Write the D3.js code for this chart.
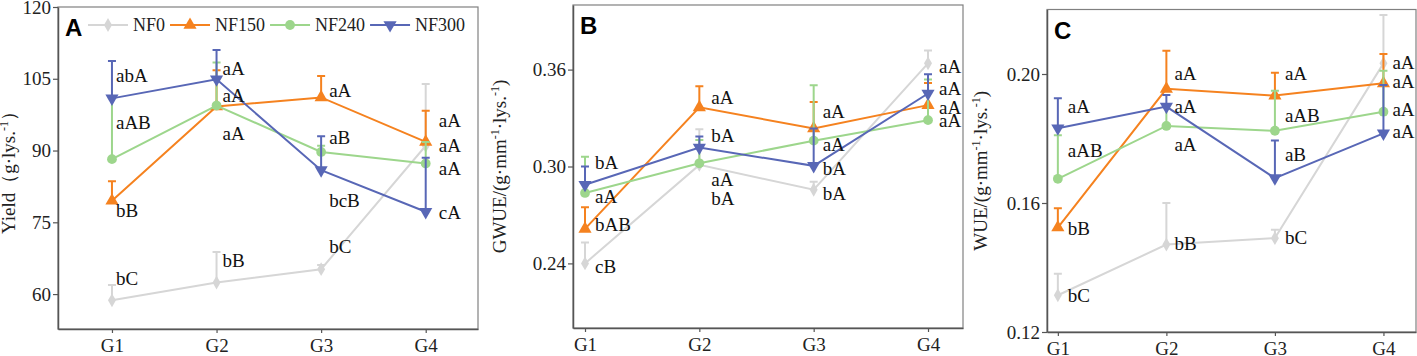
<!DOCTYPE html>
<html>
<head>
<meta charset="utf-8">
<script src="https://cdn.jsdelivr.net/npm/d3@7"></script>
<style>
  body { margin: 0; background: #fff; }
  svg { display: block; }
</style>
</head>
<body>
<div id="chart"></div>
<script>
// groups and treatments
const groups = ['G1', 'G2', 'G3', 'G4']
const series = ['NF0', 'NF150', 'NF240', 'NF300']
const colors = ['#d6d6d6', '#f5821f', '#9dd68c', '#5867b6']

// A - yield, rows follow series order
const yieldMean = [
  [58.7, 62.4, 65.2, 91.0],
  [79.5, 99.2, 101.1, 91.8],
  [88.2, 99.4, 89.7, 87.3],
  [100.9, 104.9, 85.9, 77.2]
]
const yieldSE = [
  [3.2, 6.4, 0.9, 12.9],
  [4.1, 7.6, 4.5, 6.5],
  [12.8, 9.0, 1.3, 4.5],
  [7.8, 6.1, 7.1, 11.3]
]
const yieldLetters = [
  ['bC', 'bB', 'bC', 'aA'],
  ['bB', 'aA', 'aA', 'aA'],
  ['aAB', 'aA', 'aB', 'aA'],
  ['abA', 'aA', 'bcB', 'cA']
]
const yieldLetterAt = [
  [63.3, 67.1, 69.9, 91.1],
  [77.4, 93.6, 102.6, 96.4],
  [95.8, 101.6, 92.8, 86.3],
  [105.8, 107.2, 79.6, 77.0]
]

// B - GWUE
const gwueMean = [
  [0.240, 0.301, 0.2856, 0.3639],
  [0.2614, 0.3366, 0.3236, 0.338],
  [0.2836, 0.302, 0.316, 0.3287],
  [0.2887, 0.3117, 0.3004, 0.3452]
]
const gwueSE = [
  [0.013, 0.022, 0.005, 0.008],
  [0.0133, 0.0131, 0.0164, 0.0137],
  [0.0225, 0.0144, 0.0343, 0.0251],
  [0.0113, 0.0068, 0.0232, 0.0119]
]
const gwueLetters = [
  ['cB', 'bA', 'bA', 'aA'],
  ['bAB', 'aA', 'aA', 'aA'],
  ['aA', 'aA', 'aA', 'aA'],
  ['bA', 'bA', 'bA', 'aA']
]
const gwueLetterAt = [
  [0.238, 0.2805, 0.2831, 0.362],
  [0.264, 0.3427, 0.3339, 0.3366],
  [0.2815, 0.2918, 0.314, 0.3283],
  [0.3027, 0.3195, 0.299, 0.3483]
]

// C - WUE
const wueMean = [
  [0.1314, 0.1471, 0.1491, 0.2033],
  [0.1524, 0.1954, 0.1933, 0.1971],
  [0.1675, 0.1839, 0.1824, 0.1883],
  [0.1832, 0.1899, 0.1677, 0.1816]
]
const wueSE = [
  [0.0067, 0.0129, 0.0026, 0.015],
  [0.006, 0.0118, 0.0071, 0.0091],
  [0.0135, 0.006, 0.0124, 0.0127],
  [0.0093, 0.0036, 0.0117, 0.015]
]
const wueLetters = [
  ['bC', 'bB', 'bC', 'aA'],
  ['bB', 'aA', 'aA', 'aA'],
  ['aAB', 'aA', 'aAB', 'aA'],
  ['aA', 'aA', 'aB', 'aA']
]
const wueLetterAt = [
  [0.1313, 0.1474, 0.1493, 0.2035],
  [0.1522, 0.2002, 0.2002, 0.1976],
  [0.1763, 0.1783, 0.1873, 0.1889],
  [0.1901, 0.1899, 0.1752, 0.1821]
]

const yieldTicks = [60, 75, 90, 105, 120]
const gwueTicks = [0.24, 0.30, 0.36]
const wueTicks = [0.12, 0.16, 0.20]

const width = 1417, height = 356
const serif = "'Liberation Serif', 'Times New Roman', serif"
const sans = "'Liberation Sans', Arial, sans-serif"

const svg = d3.select('#chart').append('svg')
  .attr('width', width)
  .attr('height', height)

const symbols = [
  d3.symbol().type(d3.symbolDiamond).size(55),
  d3.symbol().type(d3.symbolTriangle).size(75),
  d3.symbol().type(d3.symbolCircle).size(75),
  d3.symbol().type(d3.symbolTriangle).size(75)
]
const symbolRotate = [0, 0, 0, 180]

const panels = [
  {
    id: 'A', box: [58, 478, 7, 329], xDomain: [0.484, 4.5], yDomain: [52.7, 120],
    ticks: yieldTicks, fmt: d3.format('d'),
    mean: yieldMean, se: yieldSE, letters: yieldLetters, letterAt: yieldLetterAt,
    dx: [4, 6, 8, 13],
    title: [['Yield（g·lys.', 0], ['-1', 1], ['）', 0]], titleX: 15
  },
  {
    id: 'B', box: [573, 963, 5, 328], xDomain: [0.895, 4.306], yDomain: [0.2, 0.4],
    ticks: gwueTicks, fmt: d3.format('.2f'),
    mean: gwueMean, se: gwueSE, letters: gwueLetters, letterAt: gwueLetterAt,
    dx: [10, 12, 9, 11],
    title: [['GWUE/(g·mm', 0], ['-1', 1], ['·lys.', 0], ['-1', 1], [')', 0]], titleX: 506
  },
  {
    id: 'C', box: [1047, 1416, 9.5, 332], xDomain: [0.9, 4.3], yDomain: [0.12, 0.22],
    ticks: wueTicks, fmt: d3.format('.2f'),
    mean: wueMean, se: wueSE, letters: wueLetters, letterAt: wueLetterAt,
    dx: [10, 8, 10, 9],
    title: [['WUE/(g·mm', 0], ['-1', 1], ['·lys.', 0], ['-1', 1], [')', 0]], titleX: 987
  }
]

panels.forEach(p => {
  const [l, r, t, b] = p.box
  const x = d3.scaleLinear().domain(p.xDomain).range([l, r])
  const y = d3.scaleLinear().domain(p.yDomain).range([b, t])
  const g = svg.append('g')

  // frame
  g.append('rect')
    .attr('x', l).attr('y', t)
    .attr('width', r - l).attr('height', b - t)
    .attr('fill', 'none')
    .attr('stroke', '#808080')
    .attr('stroke-width', 1.2)

  const yAxis = g.append('g')
    .attr('transform', `translate(${l},0)`)
    .call(d3.axisLeft(y).tickValues(p.ticks).tickFormat(p.fmt).tickSize(5).tickPadding(2).tickSizeOuter(0))
  const xAxis = g.append('g')
    .attr('transform', `translate(0,${b})`)
    .call(d3.axisBottom(x).tickValues([1, 2, 3, 4]).tickFormat((d, i) => groups[i]).tickSize(4).tickPadding(6).tickSizeOuter(0))
  ;[xAxis, yAxis].forEach(a => {
    a.attr('font-family', serif).attr('font-size', 19)
    a.select('.domain').attr('stroke', '#555').attr('stroke-width', 1.5)
    a.selectAll('.tick line').attr('stroke', '#555').attr('stroke-width', 1.2)
    a.selectAll('.tick text').attr('fill', '#222')
  })

  // y title
  const tt = g.append('text')
    .attr('font-family', serif)
    .attr('font-size', 19)
    .attr('fill', '#222')
    .attr('text-anchor', 'middle')
    .attr('transform', `translate(${p.titleX},${(t + b) / 2}) rotate(-90)`)
  p.title.forEach(([s, sup], i) => {
    const prevSup = i > 0 ? p.title[i - 1][1] : 0
    tt.append('tspan')
      .attr('dy', sup ? -7 : (prevSup ? 7 : 0))
      .attr('font-size', sup ? 12 : null)
      .text(s)
  })

  // series
  series.forEach((name, si) => {
    const sg = g.append('g')
    const pts = p.mean[si].map((v, gi) => ({ gi, v, se: p.se[si][gi] }))

    // error bars (upper only)
    sg.selectAll('.err')
      .data(pts)
      .enter()
      .append('path')
      .attr('d', d => {
        const cx = x(d.gi + 1), y0 = y(d.v), y1 = y(d.v + d.se)
        return `M${cx},${y0}V${y1}M${cx - 4},${y1}H${cx + 4}`
      })
      .attr('stroke', colors[si])
      .attr('stroke-width', 2)
      .attr('fill', 'none')

    sg.append('path')
      .datum(pts)
      .attr('d', d3.line().x(d => x(d.gi + 1)).y(d => y(d.v)))
      .attr('fill', 'none')
      .attr('stroke', colors[si])
      .attr('stroke-width', 2)

    sg.selectAll('.mk')
      .data(pts)
      .enter()
      .append('path')
      .attr('d', symbols[si])
      .attr('transform', d => `translate(${x(d.gi + 1)},${y(d.v)}) rotate(${symbolRotate[si]})`)
      .attr('fill', colors[si])
  })

  // significance letters
  series.forEach((name, si) => {
    g.selectAll(null)
      .data(p.letters[si])
      .enter()
      .append('text')
      .attr('font-family', serif)
      .attr('font-size', 19)
      .attr('fill', '#111')
      .attr('x', (d, gi) => x(gi + 1) + p.dx[gi])
      .attr('y', (d, gi) => y(p.letterAt[si][gi]))
      .attr('dy', '0.35em')
      .text(d => d)
  })

  g.append('text')
    .attr('font-family', sans)
    .attr('font-weight', 'bold')
    .attr('font-size', 24)
    .attr('x', l + 7)
    .attr('y', t + 29)
    .text(p.id)
})

// legend in panel A
const legend = svg.append('g')
  .attr('font-family', serif)
  .attr('font-size', 18)
let lx = 88
const ly = 25
series.forEach((name, si) => {
  legend.append('line')
    .attr('x1', lx).attr('x2', lx + 40)
    .attr('y1', ly).attr('y2', ly)
    .attr('stroke', colors[si])
    .attr('stroke-width', 2)
  legend.append('path')
    .attr('d', symbols[si])
    .attr('transform', `translate(${lx + 20},${ly}) rotate(${symbolRotate[si]})`)
    .attr('fill', colors[si])
  const txt = legend.append('text')
    .attr('x', lx + 45)
    .attr('y', ly)
    .attr('dy', '0.35em')
    .attr('fill', '#222')
    .text(name)
  lx = lx + 45 + txt.node().getComputedTextLength() + 5
})
</script>
</body>
</html>
